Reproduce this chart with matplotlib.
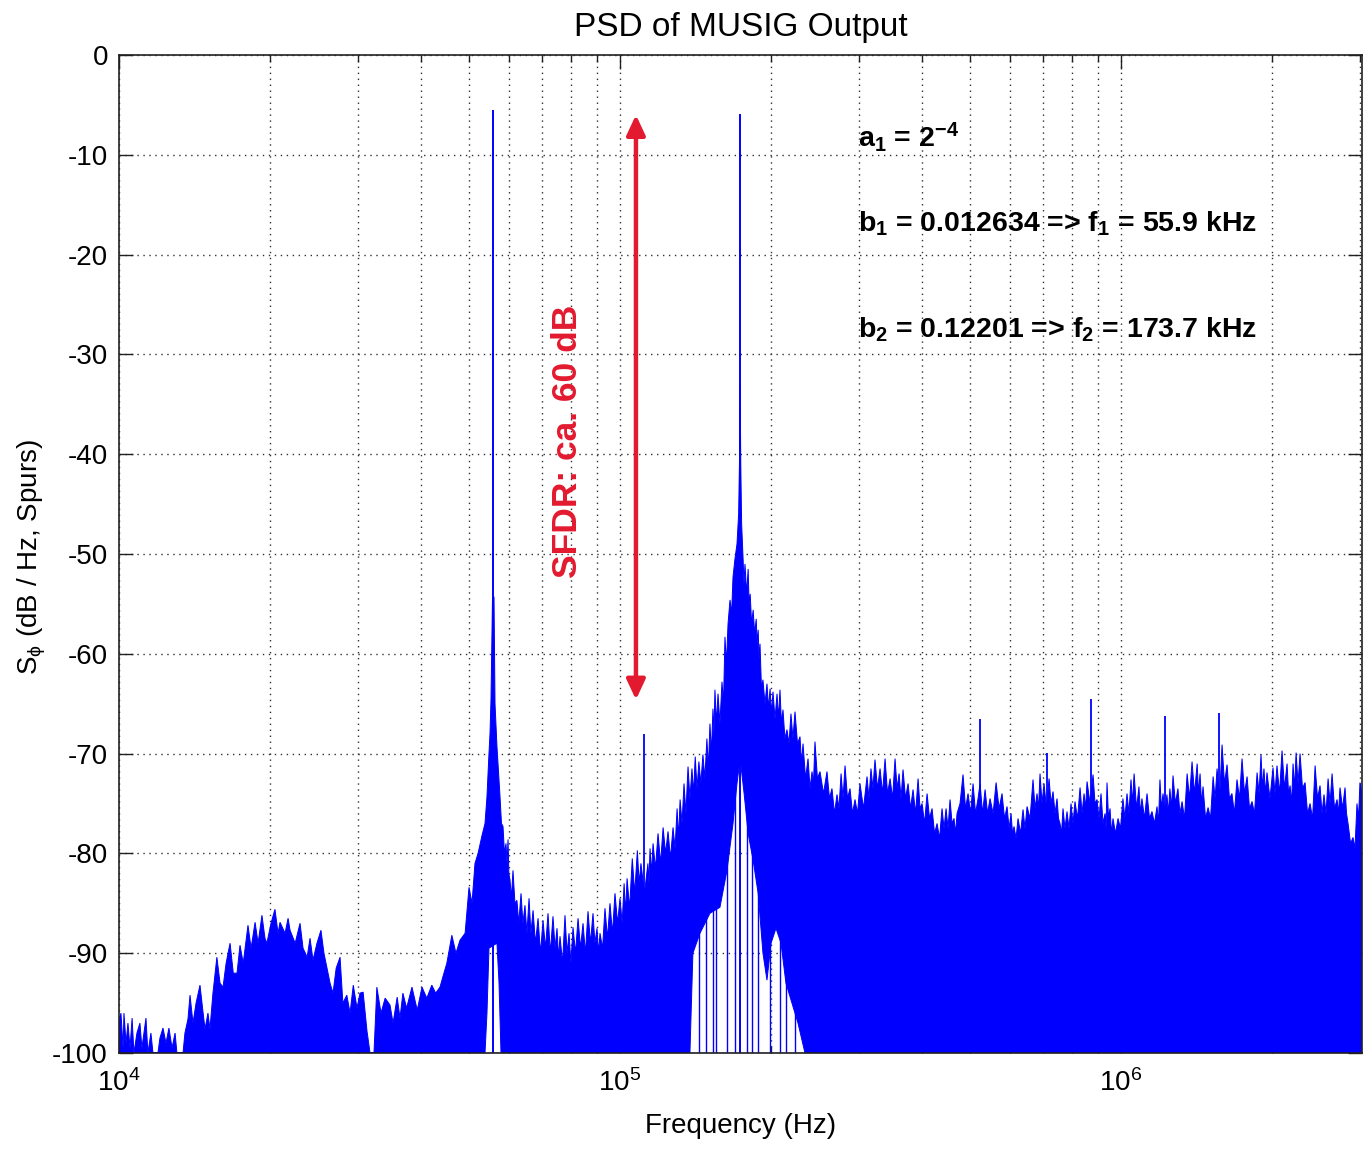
import numpy as np
import matplotlib
matplotlib.use("Agg")
import matplotlib.pyplot as plt
from matplotlib import font_manager as fm
from matplotlib.ticker import FixedLocator, LogLocator, NullFormatter

# ---------------- data ----------------
# upper edge of the PSD trace, by segment: frequency (kHz) and level (dB)
low_f_khz = [
    10.00, 10.09, 10.19, 10.23, 10.33, 10.42, 10.52, 10.62, 10.71, 10.86,
    11.01, 11.11, 11.32, 11.42, 11.58, 11.69, 11.96, 12.07, 12.24, 12.41,
    12.58, 12.76, 12.94, 13.05, 13.42, 13.54, 13.73, 13.86, 14.05, 14.25,
    14.51, 14.72, 14.85, 15.05, 15.19, 15.40, 15.68, 15.91, 16.13, 16.36,
    16.66, 16.91, 17.20, 17.44, 17.70, 18.09, 18.35, 18.69, 18.95, 19.29,
    19.56, 19.73, 20.11, 20.48, 20.77, 20.96, 21.45, 21.75, 21.95, 22.47,
    22.98, 23.30, 23.74, 24.06, 24.39, 24.84, 25.30, 25.65, 25.99, 26.38,
    26.74, 27.13, 27.62, 27.98, 28.49, 28.92, 29.35, 29.86, 30.27, 30.71,
    31.26, 31.70, 32.28, 32.71, 33.34, 33.98, 34.75, 35.24, 35.91, 36.38,
    36.87, 37.50, 38.44, 39.38, 40.25, 41.15, 42.11, 42.86, 43.72, 44.52,
    45.12, 46.17, 47.05, 47.93, 49.07, 49.96,
]
low_db = [
    -97, -96, -99.5, -96, -99, -97, -99.5, -96.5, -100, -98,
    -97, -99.5, -96.5, -100, -98, -100, -100, -98.5, -97.5, -99,
    -97.5, -99.5, -98, -100, -100, -98, -96.6, -94.2, -97, -95,
    -93.2, -96, -97.6, -96, -97.6, -94, -90.4, -93, -93.4, -91,
    -89, -92, -92, -89.2, -91, -87.2, -89.5, -86.9, -89, -86.2,
    -88.5, -89, -87, -85.6, -88, -86.9, -88, -86.5, -87.7, -89,
    -87, -89.5, -90.4, -88.5, -90.7, -89, -87.7, -90, -91.4, -93,
    -94, -91.5, -90.4, -95, -94.2, -96, -93.2, -95.5, -94, -93.9,
    -97.8, -100, -100, -93.4, -96, -94.5, -95.2, -97, -94.4, -96.5,
    -94, -95.5, -93.4, -95.7, -93.4, -94.5, -93.2, -94, -93.4, -92,
    -91, -88.2, -90, -88.7, -88, -83.4,
]

f1_f_khz = [50.65, 51.35, 52.08, 53.04, 53.77, 54.26, 54.76, 55.02, 55.27,
            55.66, 56.04, 56.30, 56.81, 57.61]
f1_db = [-85, -81, -80, -78.2, -77, -74.3, -70, -68, -64.6,
         -54.3, -54.3, -65, -69.3, -74.3]

valley_f_khz = [
    58.0, 58.41, 58.8, 59.22, 59.5, 59.77, 60.0, 60.32, 60.7, 61.15,
    61.7, 62.26, 62.8, 63.45, 64.0, 64.61, 65.2, 65.83, 66.4, 67.06,
    67.8, 68.61, 69.4, 70.20, 71.0, 71.83, 72.6, 73.49, 74.2, 74.86,
    75.4, 75.90, 76.8, 77.66, 78.4, 79.11, 79.8, 80.58, 81.5, 82.46,
    83.4, 84.37, 85.3, 86.33, 87.3, 88.33, 89.1, 89.97, 90.6, 91.22,
    92.3, 93.33, 94.4, 95.50, 96.6, 97.72, 98.9,
]
valley_db = [
    -77, -77.3, -80, -79, -81, -78.6, -82, -82.7, -84.5, -81.7,
    -85, -84.7, -87, -84, -87, -85.2, -88, -84.5, -88, -85.7,
    -89, -86.5, -90, -86.7, -89.5, -86, -90, -86.3, -89.5, -87.5,
    -90.5, -88.3, -91, -86.2, -90, -88, -91, -87.4, -90, -86.5,
    -89.5, -87, -90, -85.8, -89, -86, -89, -87.5, -90, -88,
    -89.5, -85.5, -88.5, -85, -88, -84, -87,
]

slope_f_khz = [
    100.0, 101.0, 101.9, 102.6, 103.3, 104.5, 105.8, 107.0, 108.3, 109.2,
    110.1, 111.9, 113.7, 114.2, 114.8, 115.6, 116.4, 117.7, 119.1, 120.5,
    121.9, 123.3, 124.7, 126.1, 127.6, 128.8, 130.0, 130.9, 131.8, 133.0,
    134.2, 135.4, 136.7, 137.9, 139.2, 140.2, 141.3, 142.5, 143.7, 145.0,
    146.4, 147.7, 149.1, 150.1, 151.2, 152.2, 153.3, 154.0, 154.7, 155.8,
    156.9, 158.3, 159.8, 160.9, 162.0, 163.1, 164.3,
]
slope_db = [
    -84.5, -87, -83, -86, -82.5, -85.5, -80.5, -84, -79.7, -83,
    -81, -84, -81, -83, -79.5, -82, -79, -81.5, -78, -81,
    -77.4, -80, -77.8, -80.5, -77.4, -79.5, -75.5, -78.5, -74.6, -77,
    -73, -76, -71.3, -74.5, -71.5, -74, -70.3, -73.5, -70.8, -73,
    -70.1, -72.5, -68.5, -71.5, -67, -70, -65.5, -68, -63.6, -67,
    -64, -67, -62.8, -65, -58.3, -61, -57,
]

f2_f_khz = [
    165.8, 167.0, 168.1, 169.6, 171.2, 172.5, 173.2, 173.7, 174.2, 174.9,
    176.1, 176.8, 177.6, 179.0, 180.2, 181.0, 181.9, 183.1, 184.4, 185.7,
    187.0, 187.8, 188.7, 189.5, 190.3, 191.6, 192.9, 194.7, 196.5, 197.9,
    199.3, 200.6, 202.0, 203.9, 205.8, 207.2, 208.6, 210.0, 211.5, 213.4,
    215.4, 217.4, 219.4, 221.4, 223.5, 226.1,
]
f2_db = [
    -54.6, -56, -52.3, -50.5, -49, -46, -40.5, -33, -41, -47,
    -50.6, -53, -51, -54, -51.5, -55, -54, -57, -55.6, -58,
    -56.5, -59, -57.6, -60.5, -59, -63.5, -62.6, -65, -63, -65.5,
    -63.5, -66, -63.8, -66.5, -64, -66.5, -63.6, -67, -65.6, -68.5,
    -67.6, -69, -66, -68.5, -65.8, -69,
]

high_f_khz = [
    228.7, 230.3, 231.9, 234.6, 237.3, 239.5, 241.7, 243.3, 245.0, 247.8,
    250.7, 254.8, 258.9, 261.9, 264.9, 268.0, 271.1, 273.6, 276.2, 278.7,
    281.3, 284.5, 287.8, 291.1, 294.5, 297.9, 301.3, 306.2, 311.2, 314.0,
    316.9, 319.8, 322.8, 326.6, 330.4, 334.2, 338.1, 342.0, 346.0, 350.0,
    354.0, 357.3, 360.6, 363.9, 367.2, 371.5, 375.8, 380.1, 384.5, 389.0,
    393.5, 397.1, 400.8, 405.4, 410.1, 414.8, 419.6, 424.5, 429.4, 434.3,
    439.3, 443.4, 447.5, 451.6, 455.8, 460.0, 464.2, 467.4, 470.7, 477.2,
    483.8, 489.4, 495.1, 500.8, 506.6, 512.5, 518.4, 523.2, 529.3, 535.4,
    541.6, 547.8, 555.5, 563.2, 571.0, 578.8, 585.5, 592.3, 597.8, 603.3,
    607.4, 611.6, 617.3, 623.0, 630.2, 637.4, 643.3, 649.3, 658.3, 667.4,
    673.6, 679.8, 684.5, 689.2, 695.6, 702.0, 710.2, 718.4, 725.0, 731.7,
    738.4, 745.2, 750.3, 755.5, 760.7, 766.0, 773.1, 780.2, 787.4, 794.7,
    802.0, 809.4, 818.9, 828.4, 836.1, 843.8, 849.6, 855.5, 867.4, 879.4,
    887.5, 895.7, 903.9, 912.2, 920.7, 929.2, 933.4, 937.7, 944.2, 950.8,
    957.3, 963.9, 975.1, 986.4, 997.7, 1009, 1018, 1028, 1037, 1047,
    1054, 1062, 1074, 1086, 1093, 1101, 1114, 1127, 1140, 1153,
    1166, 1180, 1188, 1196, 1204, 1213, 1224, 1235, 1243, 1252,
    1261, 1270, 1284, 1299, 1311, 1324, 1339, 1355, 1370, 1386,
    1402, 1419, 1428, 1438, 1448, 1458, 1475, 1492, 1509, 1527,
    1541, 1555, 1573, 1591, 1609, 1628, 1646, 1665, 1684, 1704,
    1724, 1744, 1764, 1785, 1805, 1826, 1847, 1869, 1886, 1903,
    1916, 1929, 1942, 1956, 1983, 2011, 2029, 2048, 2072, 2096,
    2120, 2145, 2160, 2175, 2190, 2205, 2220, 2236, 2256, 2277,
    2303, 2330, 2357, 2384, 2412, 2440, 2468, 2496, 2519, 2542,
    2566, 2590, 2614, 2638, 2668, 2699, 2717, 2736, 2768, 2800,
    2819, 2839, 2872, 2905, 2931, 2958, 2979, 2999, 3027,
]
high_db = [
    -68.3, -71, -69, -72.5, -70.5, -73.5, -71.8, -73, -68.8, -72.5,
    -71.8, -74, -71.8, -74.5, -73.5, -76, -74.1, -75.5, -72, -74.5,
    -71.2, -74.5, -73.5, -76, -74.6, -76, -73, -75.5, -72.3, -74.5,
    -71.5, -73.5, -70.6, -73.5, -71.5, -74, -70.5, -74, -72.5, -74.5,
    -70.5, -73.5, -72, -74.5, -71.6, -74.5, -73, -75.5, -73.6, -76,
    -72.5, -75.5, -75, -77, -74, -76.5, -75.5, -78, -77, -78.5,
    -75.5, -77.5, -75.5, -77.5, -74.6, -77, -76.5, -78, -76, -75,
    -72.1, -75.5, -74, -76, -73, -76, -74.5, -73, -76, -73.6,
    -76, -74.5, -76, -72.9, -75.5, -74, -76.5, -75.3, -77.5, -76,
    -78, -77.3, -78.5, -76.5, -78, -75.6, -77.5, -75.3, -76.5, -72.6,
    -75.5, -74, -75.5, -72, -75, -73, -75.5, -72.5, -75, -73.8,
    -76, -74.5, -76.5, -77, -78, -75.5, -77.5, -75.8, -77.5, -75,
    -77, -74.8, -76.5, -73.4, -76, -74, -75.5, -72.8, -75, -72.1,
    -75, -74.6, -76.5, -74, -77, -76, -77.5, -72.9, -76.5, -75.5,
    -78, -76.5, -78, -76.5, -77.5, -74.5, -76.5, -74, -76, -72.6,
    -75, -72, -75.5, -73.3, -76, -74.5, -76.5, -74, -76.5, -75.8,
    -77, -75.3, -77, -72.6, -75.5, -74, -76, -74.1, -76, -73.5,
    -75.5, -72.2, -75, -73.5, -76, -74.8, -76.5, -72, -74.5, -70.8,
    -74, -71, -74, -72, -75, -73.3, -76.5, -75.4, -76.5, -72.3,
    -74.5, -71.5, -74.5, -69.1, -73, -71.1, -74.5, -74, -76, -72.6,
    -74.5, -70.5, -74, -72.3, -75.5, -74.8, -76, -71.9, -74, -70.1,
    -73.5, -71.5, -74, -71.9, -74.5, -71.4, -74, -71.2, -74, -69.7,
    -73.5, -71, -74, -73.2, -75, -71, -73.5, -69.9, -73, -70,
    -73.5, -72.9, -76, -75, -76.5, -71.2, -74.5, -73.2, -76, -74.1,
    -76, -72.5, -75, -72, -75.5, -74.6, -76, -73.4, -75.5, -73.4,
    -76, -77, -79, -78.4, -79.5, -75, -76.5, -72.9, -74,
]

# lower edge of the trace (the notches below the two tones)
notch_f_khz = [10.0, 53.77, 54.26, 54.76, 56.81, 57.35, 57.87, 137.9, 139.8,
               144.4, 151.2, 158.3, 163.5, 168.1, 171.2, 173.7, 176.9, 180.2,
               184.4, 188.7, 192.9, 196.5, 200.2, 204.8, 209.6, 214.4, 220.4,
               226.6, 234.0, 3027]
notch_db = [-100, -100, -96, -89.5, -89, -93, -100, -100, -90,
            -88, -86, -85.4, -81.7, -77, -73, -70.5, -74, -78,
            -80.7, -84, -90, -92.7, -89, -87.5, -89, -93, -95,
            -97, -100, -100]

# single bins that reach down through the notch under f2
notch_bin_khz = [143.7, 148.4, 153.3, 155.4, 163.5, 169.6, 179.4, 183.5,
                 188.7, 199.3, 208.6, 214.4, 223.5]
notch_bin_top = [-75, -75, -75, -75, -60, -55, -60, -60,
                 -62, -66, -66, -70, -70]

# spurs and the two tones
spur_khz = [111.8, 523.2, 711.7, 871.4, 1224, 1569]
spur_db = [-68, -66.5, -69.9, -64.5, -66.2, -65.9]
tone_khz = [55.9, 173.7]
tone_db = [-5.5, -5.9]

y_ticks = [0, -10, -20, -30, -40, -50, -60, -70, -80, -90, -100]
y_ticklabels = ["0", "-10", "-20", "-30", "-40", "-50", "-60", "-70", "-80", "-90", "-100"]
x_ticks = [1e4, 1e5, 1e6]

sfdr_top_db, sfdr_bot_db, sfdr_khz = -6.0, -64.6, 107.6

# ---------------- style ----------------
names = {f.name for f in fm.fontManager.ttflist}
has_narrow = "Liberation Sans Narrow" in names
plt.rcParams["font.family"] = ["Liberation Sans", "DejaVu Sans"]
plt.rcParams["mathtext.default"] = "regular"

BLUE = "#0000ff"
RED = "#e31a2f"
GRID = dict(color="#303030", linestyle=(0, (1, 3.3)), linewidth=1.0)

fig = plt.figure(figsize=(13.65, 11.51), dpi=100)
ax = fig.add_axes([119 / 1365, 1 - 1053 / 1151, (1362 - 119) / 1365, (1053 - 55) / 1151])
ax.set_xscale("log")

up_f = np.concatenate([low_f_khz, f1_f_khz, valley_f_khz, slope_f_khz, f2_f_khz, high_f_khz]) * 1e3
up_y = np.concatenate([low_db, f1_db, valley_db, slope_db, f2_db, high_db])
lo_f = np.asarray(notch_f_khz) * 1e3
lo_y = np.asarray(notch_db, dtype=float)

# trace polygon: along the upper edge, back along the lower edge
px = np.concatenate([up_f, lo_f[::-1]])
py = np.concatenate([up_y, lo_y[::-1]])
ax.fill(px, py, facecolor=BLUE, edgecolor=BLUE, linewidth=0.7, zorder=2)
ax.vlines(np.asarray(notch_bin_khz) * 1e3, -100, notch_bin_top, color=BLUE, lw=1.0, zorder=2)
ax.vlines(np.asarray(spur_khz) * 1e3, -100, spur_db, color=BLUE, lw=1.3, zorder=2)
ax.vlines(np.asarray(tone_khz) * 1e3, -100, tone_db, color=BLUE, lw=1.4, zorder=2)

ax.set_xlim(1e4, 3.027e6)
ax.set_ylim(-100, 0)
ax.set_yticks(y_ticks)
ax.set_yticklabels(y_ticklabels)
ax.xaxis.set_major_locator(FixedLocator(x_ticks))
ax.xaxis.set_minor_locator(LogLocator(base=10, subs=np.arange(2, 10)))
ax.xaxis.set_minor_formatter(NullFormatter())

ax.set_axisbelow(True)
ax.grid(True, which="major", axis="both", **GRID)
ax.grid(True, which="minor", axis="x", **GRID)

ax.tick_params(axis="both", which="both", direction="in", top=True, right=True,
               labelsize=20, width=1.0, colors="#202020", labelcolor="black")
ax.tick_params(axis="both", which="major", length=10)
ax.tick_params(axis="x", which="minor", length=5)
ax.tick_params(axis="x", which="major", pad=12)
ax.tick_params(axis="y", which="major", pad=8)
for s in ax.spines.values():
    s.set_linewidth(1.2)
    s.set_color("#202020")
    s.set_zorder(5)

# titles / labels
xc = (119 + 1362) / 2 / 1365
fig.text(xc, 1 - 36 / 1151, "PSD of MUSIG Output", ha="center", va="baseline", fontsize=24)
fig.text(xc, 1 - 1133 / 1151, "Frequency (Hz)", ha="center", va="baseline", fontsize=20)
fig.text(32 / 1365, 1 - 557 / 1151, r"$S_{\phi}$ (dB / Hz, Spurs)", rotation=90,
         ha="center", va="center", fontsize=20)

# annotations
ann_kw = dict(ha="left", va="baseline", fontsize=20.5, fontweight="bold", color="black")
ax.text(298.5e3, -9.2, r"$a_1$ = $2^{-4}$", **ann_kw)
ax.text(298.5e3, -17.7, r"$b_1$ = 0.012634 => $f_1$ = 55.9 kHz", **ann_kw)
ax.text(298.5e3, -28.3, r"$b_2$ = 0.12201 => $f_2$ = 173.7 kHz", **ann_kw)

ax.annotate("", xy=(sfdr_khz * 1e3, sfdr_top_db), xytext=(sfdr_khz * 1e3, sfdr_bot_db),
            arrowprops=dict(arrowstyle="<|-|>,head_length=0.6,head_width=0.28",
                            color=RED, lw=3.2, shrinkA=0, shrinkB=0, mutation_scale=20),
            zorder=6)
if has_narrow:
    sfdr_font = dict(family=["Liberation Sans Narrow", "Liberation Sans"], fontsize=30)
else:
    sfdr_font = dict(family=["Liberation Sans", "DejaVu Sans"], fontsize=25.5)
ax.text(78.6e3, -38.7, "SFDR: ca. 60 dB", rotation=90, ha="center", va="center",
        color=RED, fontweight="bold", zorder=6, **sfdr_font)

fig.savefig("out.png", dpi=100)
